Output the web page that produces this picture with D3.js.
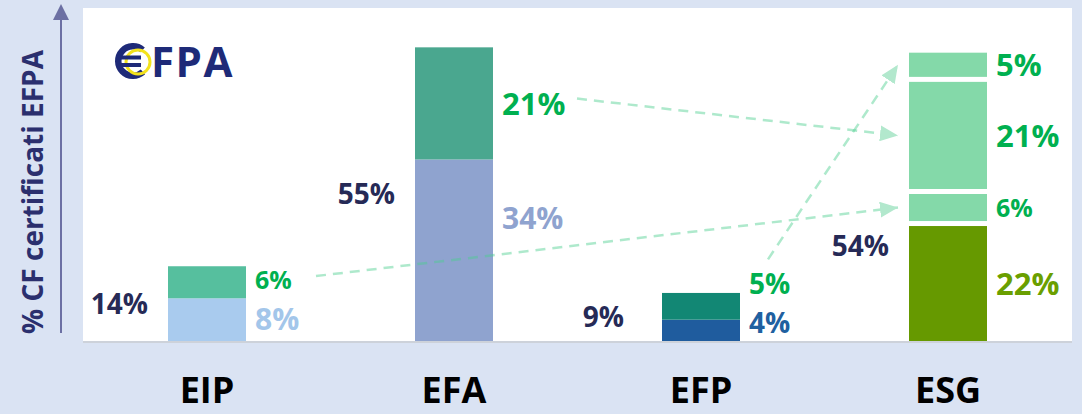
<!DOCTYPE html>
<html>
<head>
<meta charset="utf-8">
<script src="https://cdn.jsdelivr.net/npm/d3@7"></script>
<style>
html, body { margin: 0; padding: 0; background: #dae3f3; }
svg { display: block; }
text { font-family: "Open Sans", sans-serif; font-weight: 700; }
</style>
</head>
<body>
<svg id="chart" width="1082" height="414"></svg>
<script>
// Data
var categories = ["EIP", "EFA", "EFP", "ESG"];
var totals = [14, 55, 9, 54];
var segmentValues = [[8, 6], [34, 21], [4, 5], [22, 6, 21, 5]];
// flows: [from category, from segment, to category, to segment]
var flows = [["EIP", 1, "ESG", 1], ["EFA", 1, "ESG", 2], ["EFP", 1, "ESG", 3]];
var yTitle = "% CF certificati EFPA";

// Styles
var segColors = [["#a9cbee", "#56bf9e"], ["#8fa3cf", "#4aa78f"], ["#1f5c9e", "#128774"], ["#669900", "#84d9a9", "#84d9a9", "#84d9a9"]];
var labelColors = [["#a3c6ea", "#00b050"], ["#8fa3cf", "#00b050"], ["#2060a0", "#00b050"], ["#6a9f00", "#00b050", "#00b050", "#00b050"]];
var labelSizes = [[30, 25], [30, 31], [28, 28], [31, 25, 31, 31]];
var labelNudge = [[0, 0], [-32, 0], [0, 0], [0, 0, 0, 0]];
var totalNudge = [[0, 0], [0, 0], [-18, 0], [0, 49]];
var flowStart = [[70, -13], [84, -16], [28, -35]];
var gapped = [false, false, false, true];

var svg = d3.select("#chart");
var panel = {x: 83, y: 8, w: 989, h: 333};
var baseY = panel.y + panel.h;
var barW = 78;

//Step1:- white panel with a thin shadow line
svg.append("rect").attr("x", panel.x).attr("y", baseY).attr("width", panel.w).attr("height", 2).attr("fill", "#cdd2da");
svg.append("rect").attr("x", panel.x).attr("y", panel.y).attr("width", panel.w).attr("height", panel.h).attr("fill", "#fff");

//Step2:- scales
var x = d3.scalePoint().domain(categories).range([panel.x + 0.5, panel.x + panel.w - 0.5]).padding(0.5);
var y = d3.scaleLinear().domain([0, 56]).range([baseY, 42]);

// segment rectangles (with white gap for the stacked blocks of ESG)
var segs = [];
categories.forEach(function(c, i){
    var vals = segmentValues[i];
    var cum = d3.cumsum(vals);
    var g = gapped[i] ? 2.5 : 0;
    var prevBase = Infinity, prevSize = 0;
    vals.forEach(function(v, j){
        var y0 = j ? cum[j-1] : 0, y1 = cum[j];
        var top = y(y1) + (j < vals.length - 1 ? g : 0);
        var bottom = y(y0) - (j > 0 ? g : 0);
        var size = labelSizes[i][j];
        // label baseline: centred on the block, kept inside the panel and apart from the one below
        var base = (top + bottom) / 2 + size * 0.36 + labelNudge[i][j];
        base = Math.min(base, baseY - 8, prevBase - Math.max(size, prevSize) * 1.38);
        prevBase = base; prevSize = size;
        segs.push({cat: c, i: i, j: j, v: v, top: top, bottom: bottom, mid: (top + bottom) / 2, base: base});
    });
});
function findSeg(c, j){ return segs.find(function(s){ return s.cat == c && s.j == j; }); }

//Step3:- bars
svg.append("g").selectAll("rect")
    .data(segs)
    .enter()
    .append("rect")
    .attr("x", d => x(d.cat) - barW / 2)
    .attr("y", d => d.top)
    .attr("width", barW)
    .attr("height", d => d.bottom - d.top)
    .attr("fill", d => segColors[d.i][d.j]);

//Step4:- segment labels on the right
svg.append("g").selectAll("text")
    .data(segs)
    .enter()
    .append("text")
    .attr("x", d => x(d.cat) + barW / 2 + 9)
    .attr("y", d => d.base)
    .attr("font-size", d => labelSizes[d.i][d.j])
    .attr("fill", d => labelColors[d.i][d.j])
    .text(d => d.v + "%");

//Step5:- totals on the left
svg.append("g").selectAll("text")
    .data(categories)
    .enter()
    .append("text")
    .attr("x", (d, i) => x(d) - barW / 2 - 20 + totalNudge[i][0])
    .attr("y", (d, i) => y(totals[i] / 2) + 10 + totalNudge[i][1])
    .attr("text-anchor", "end")
    .attr("font-size", 28)
    .attr("fill", "#262a56")
    .text((d, i) => totals[i] + "%");

//Step6:- dashed flow arrows towards ESG
var defs = svg.append("defs");
defs.append("marker")
    .attr("id", "head")
    .attr("markerUnits", "userSpaceOnUse")
    .attr("viewBox", "0 0 18 16")
    .attr("refX", 18).attr("refY", 8)
    .attr("markerWidth", 18).attr("markerHeight", 16)
    .attr("orient", "auto")
    .append("path")
    .attr("d", "M0,0L18,8L0,16Z")
    .attr("fill", "#b2e8cd");

svg.append("g").selectAll("line")
    .data(flows)
    .enter()
    .append("line")
    .attr("x1", (d, k) => x(d[0]) + barW / 2 + flowStart[k][0])
    .attr("y1", (d, k) => findSeg(d[0], d[1]).base + flowStart[k][1])
    .attr("x2", d => x(d[2]) - barW / 2 - 11)
    .attr("y2", d => findSeg(d[2], d[3]).mid)
    .attr("stroke", "#4ccf8f")
    .attr("stroke-opacity", 0.45)
    .attr("stroke-width", 2.5)
    .attr("stroke-dasharray", "10,7")
    .attr("marker-end", "url(#head)");

//Step7:- category names
svg.append("g").selectAll("text")
    .data(categories)
    .enter()
    .append("text")
    .attr("x", d => x(d))
    .attr("y", 403)
    .attr("text-anchor", "middle")
    .attr("font-size", 36)
    .attr("fill", "#000")
    .text(d => d);

//Step8:- y axis arrow and title
svg.append("line")
    .attr("x1", 61).attr("y1", 333)
    .attr("x2", 61).attr("y2", 19)
    .attr("stroke", "#6c70a3").attr("stroke-width", 2);
svg.append("path")
    .attr("d", "M53,20L69,20L61,4Z")
    .attr("fill", "#6c70a3");
svg.append("text")
    .attr("transform", "translate(43,192) rotate(-90)")
    .attr("text-anchor", "middle")
    .attr("font-family", "'Liberation Sans', Arial, sans-serif")
    .attr("font-size", 28)
    .attr("fill", "#2b2f6e")
    .text(yTitle);

//Step9:- EFPA logo
var logo = svg.append("g");
logo.append("path")
    .attr("transform", "translate(133,61)")
    .attr("d", d3.arc()({innerRadius: 11.5, outerRadius: 18, startAngle: 2.4, endAngle: 7.0}))
    .attr("fill", "#1e2a78");
logo.append("circle")
    .attr("cx", 138).attr("cy", 62).attr("r", 12)
    .attr("fill", "none").attr("stroke", "#f3e21c").attr("stroke-width", 3);
logo.append("rect").attr("x", 116).attr("y", 55.5).attr("width", 25).attr("height", 4).attr("fill", "#1e2a78");
logo.append("rect").attr("x", 116).attr("y", 63).attr("width", 25).attr("height", 4).attr("fill", "#1e2a78");
logo.append("text")
    .attr("x", 151).attr("y", 77)
    .attr("font-family", "'Liberation Sans', Arial, sans-serif")
    .attr("font-size", 42)
    .attr("letter-spacing", 1.5)
    .attr("fill", "#1e2a78")
    .text("FPA");
</script>
</body>
</html>
